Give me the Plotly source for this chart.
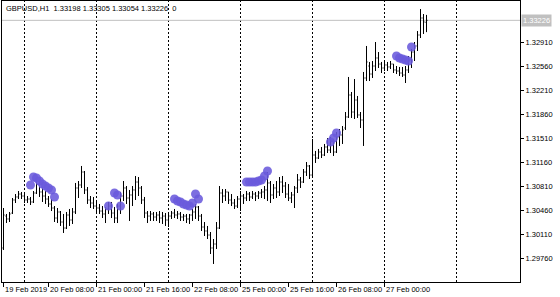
import pandas as pd
import plotly.graph_objects as go

symbol_header = "GBPUSD,H1\u00a0\u00a01.33198 1.33305 1.33054 1.33226\u00a0\u00a00"
first_bar_time = "2019-02-19 17:00"
last_session_time = "2019-02-28 23:00"

open_ = [
    1.29906, 1.30372, 1.30329, 1.30416, 1.30606, 1.30650, 1.30693, 1.30664, 1.30606, 1.30620,
    1.30577, 1.30708, 1.30839, 1.30723, 1.30664, 1.30620, 1.30548, 1.30489, 1.30343, 1.30431,
    1.30285, 1.30197, 1.30387, 1.30314, 1.30431, 1.30781, 1.30825, 1.31014, 1.30752, 1.30606,
    1.30562, 1.30518, 1.30489, 1.30445, 1.30402, 1.30475, 1.30518, 1.30416, 1.30343, 1.30518,
    1.30664, 1.30781, 1.30635, 1.30679, 1.30752, 1.30868, 1.30781, 1.30606, 1.30416, 1.30372,
    1.30402, 1.30358, 1.30387, 1.30343, 1.30372, 1.30314, 1.30372, 1.30416, 1.30387, 1.30402,
    1.30358, 1.30372, 1.30329, 1.30387, 1.30431, 1.30504, 1.30372, 1.30212, 1.30154, 1.30095,
    1.29906, 1.29964, 1.30197, 1.30708, 1.30664, 1.30723, 1.30606, 1.30562, 1.30518, 1.30620,
    1.30664, 1.30635, 1.30693, 1.30650, 1.30693, 1.30664, 1.30708, 1.30723, 1.30752, 1.30854,
    1.30679, 1.30781, 1.30723, 1.30868, 1.30810, 1.30693, 1.30635, 1.30679, 1.30781, 1.30898,
    1.30868, 1.31014, 1.31102, 1.30970, 1.31262, 1.31218, 1.31306, 1.31262, 1.31379, 1.31335,
    1.31467, 1.31306, 1.31525, 1.31554, 1.31656, 1.31817, 1.32137, 1.31889, 1.32064, 1.31846,
    1.31773, 1.32385, 1.32560, 1.32443, 1.32560, 1.32677, 1.32589, 1.32531, 1.32575, 1.32546,
    1.32589, 1.32502, 1.32487, 1.32458, 1.32429, 1.32502, 1.32648, 1.32764, 1.32852, 1.33012,
    1.33260, 1.33198,
]
high = [
    1.30489, 1.30402, 1.30431, 1.30635, 1.30693, 1.30737, 1.30723, 1.30693, 1.30664, 1.30650,
    1.30737, 1.30912, 1.30868, 1.30795, 1.30737, 1.30664, 1.30620, 1.30518, 1.30489, 1.30445,
    1.30402, 1.30431, 1.30475, 1.30489, 1.30854, 1.30883, 1.31102, 1.31029, 1.30795, 1.30664,
    1.30650, 1.30577, 1.30548, 1.30518, 1.30504, 1.30577, 1.30577, 1.30504, 1.30548, 1.30723,
    1.30883, 1.30810, 1.30752, 1.30810, 1.30956, 1.30941, 1.30810, 1.30650, 1.30445, 1.30445,
    1.30431, 1.30431, 1.30445, 1.30431, 1.30416, 1.30402, 1.30445, 1.30475, 1.30445, 1.30431,
    1.30402, 1.30402, 1.30402, 1.30475, 1.30548, 1.30518, 1.30402, 1.30285, 1.30227, 1.30139,
    1.30037, 1.30285, 1.30810, 1.30766, 1.30766, 1.30723, 1.30693, 1.30620, 1.30664, 1.30737,
    1.30693, 1.30737, 1.30723, 1.30737, 1.30723, 1.30737, 1.30766, 1.30810, 1.31014, 1.30883,
    1.30839, 1.30883, 1.30941, 1.30956, 1.30868, 1.30839, 1.30723, 1.30810, 1.30985, 1.30941,
    1.31058, 1.31160, 1.31116, 1.31496, 1.31321, 1.31350, 1.31379, 1.31423, 1.31510, 1.31525,
    1.31496, 1.31598, 1.31641, 1.31685, 1.31889, 1.32400, 1.32181, 1.32370, 1.32123, 1.31889,
    1.32473, 1.32852, 1.32619, 1.32633, 1.32910, 1.32764, 1.32619, 1.32619, 1.32619, 1.32633,
    1.32589, 1.32560, 1.32546, 1.32546, 1.32560, 1.32706, 1.32808, 1.32910, 1.33070, 1.33391,
    1.33318, 1.33305,
]
low = [
    1.29877, 1.30270, 1.30285, 1.30402, 1.30562, 1.30620, 1.30620, 1.30562, 1.30562, 1.30533,
    1.30562, 1.30693, 1.30650, 1.30577, 1.30548, 1.30504, 1.30445, 1.30285, 1.30270, 1.30227,
    1.30125, 1.30183, 1.30227, 1.30256, 1.30402, 1.30635, 1.30781, 1.30693, 1.30548, 1.30489,
    1.30475, 1.30416, 1.30402, 1.30343, 1.30270, 1.30402, 1.30343, 1.30270, 1.30270, 1.30402,
    1.30591, 1.30548, 1.30300, 1.30518, 1.30606, 1.30664, 1.30548, 1.30343, 1.30270, 1.30300,
    1.30300, 1.30300, 1.30270, 1.30256, 1.30227, 1.30212, 1.30329, 1.30343, 1.30329, 1.30300,
    1.30300, 1.30270, 1.30256, 1.30300, 1.30329, 1.30300, 1.30154, 1.30081, 1.30037, 1.29818,
    1.29673, 1.29891, 1.30183, 1.30562, 1.30591, 1.30548, 1.30518, 1.30475, 1.30489, 1.30445,
    1.30548, 1.30591, 1.30591, 1.30620, 1.30591, 1.30620, 1.30635, 1.30620, 1.30591, 1.30562,
    1.30620, 1.30635, 1.30664, 1.30708, 1.30635, 1.30591, 1.30562, 1.30489, 1.30708, 1.30781,
    1.30854, 1.30956, 1.30912, 1.30927, 1.31146, 1.31204, 1.31218, 1.31248, 1.31291, 1.31291,
    1.31248, 1.31291, 1.31394, 1.31423, 1.31627, 1.31802, 1.31802, 1.31787, 1.31802, 1.31656,
    1.31394, 1.32341, 1.32341, 1.32385, 1.32487, 1.32531, 1.32458, 1.32487, 1.32487, 1.32516,
    1.32458, 1.32443, 1.32414, 1.32400, 1.32312, 1.32458, 1.32531, 1.32633, 1.32779, 1.32968,
    1.33027, 1.33054,
]
close = [
    1.30387, 1.30329, 1.30402, 1.30606, 1.30650, 1.30693, 1.30664, 1.30606, 1.30620, 1.30577,
    1.30708, 1.30839, 1.30723, 1.30664, 1.30620, 1.30548, 1.30489, 1.30343, 1.30431, 1.30285,
    1.30197, 1.30387, 1.30314, 1.30431, 1.30781, 1.30825, 1.31014, 1.30752, 1.30606, 1.30562,
    1.30518, 1.30489, 1.30445, 1.30402, 1.30475, 1.30518, 1.30416, 1.30343, 1.30518, 1.30664,
    1.30781, 1.30635, 1.30679, 1.30752, 1.30868, 1.30781, 1.30606, 1.30416, 1.30372, 1.30402,
    1.30358, 1.30387, 1.30343, 1.30372, 1.30314, 1.30372, 1.30416, 1.30387, 1.30402, 1.30358,
    1.30372, 1.30329, 1.30387, 1.30431, 1.30504, 1.30372, 1.30212, 1.30154, 1.30095, 1.29906,
    1.29964, 1.30197, 1.30708, 1.30664, 1.30723, 1.30606, 1.30562, 1.30518, 1.30620, 1.30664,
    1.30635, 1.30693, 1.30650, 1.30693, 1.30664, 1.30708, 1.30723, 1.30752, 1.30854, 1.30679,
    1.30781, 1.30723, 1.30868, 1.30810, 1.30693, 1.30635, 1.30679, 1.30781, 1.30898, 1.30868,
    1.31014, 1.31102, 1.30970, 1.31262, 1.31218, 1.31306, 1.31262, 1.31379, 1.31335, 1.31467,
    1.31306, 1.31525, 1.31554, 1.31627, 1.31817, 1.32137, 1.31889, 1.32064, 1.31846, 1.31773,
    1.32385, 1.32619, 1.32443, 1.32560, 1.32677, 1.32589, 1.32531, 1.32575, 1.32546, 1.32589,
    1.32502, 1.32487, 1.32458, 1.32429, 1.32502, 1.32648, 1.32764, 1.32852, 1.33012, 1.33260,
    1.33202, 1.33226,
]

dot_bars = [9, 10, 11, 12, 13, 14, 15, 16, 17,
            35, 37, 38, 39,
            57, 58, 59, 60, 61, 62, 63, 64, 65,
            81, 82, 83, 84, 85, 86, 87, 88,
            109, 110, 111,
            131, 132, 133, 134, 135, 136]
dot_prices = [1.30825, 1.30941, 1.30927, 1.30883, 1.30839, 1.30810, 1.30781, 1.30752, 1.30650,
              1.30518, 1.30708, 1.30679, 1.30518,
              1.30620, 1.30591, 1.30577, 1.30548, 1.30533, 1.30518, 1.30562, 1.30693, 1.30620,
              1.30868, 1.30868, 1.30868, 1.30868, 1.30883, 1.30898, 1.30956, 1.31029,
              1.31452, 1.31510, 1.31583,
              1.32706, 1.32677, 1.32662, 1.32648, 1.32633, 1.32837]

price_ticks = [1.29760, 1.30110, 1.30460, 1.30810, 1.31160, 1.31510, 1.31860, 1.32210, 1.32560, 1.32910]
current_price = 1.33226
price_range = [1.29410, 1.33508]

time_tick_times = ["2019-02-19 17:00", "2019-02-20 08:00", "2019-02-21 00:00", "2019-02-21 16:00",
                   "2019-02-22 08:00", "2019-02-25 00:00", "2019-02-25 16:00", "2019-02-26 08:00",
                   "2019-02-27 00:00"]
time_tick_labels = ["19 Feb 2019", "20 Feb 08:00", "21 Feb 00:00", "21 Feb 16:00", "22 Feb 08:00",
                    "25 Feb 00:00", "25 Feb 16:00", "26 Feb 08:00", "27 Feb 00:00"]
visible_bar_slots = [-0.5, 172.1667]

FONT = "Liberation Sans, Arial, sans-serif"
FS = 7.5

all_hours = pd.date_range(first_bar_time, last_session_time, freq="h")
session = all_hours[all_hours.dayofweek < 5]
n = len(close)
xs = list(range(n))
tick_idx = [session.get_loc(pd.Timestamp(t)) for t in time_tick_times]
day_starts = [i for i, t in enumerate(session) if t.hour == 0 and i <= visible_bar_slots[1]]

fig = go.Figure()
fig.add_trace(go.Ohlc(
    x=xs, open=open_, high=high, low=low, close=close,
    increasing=dict(line=dict(color="#000000", width=1)),
    decreasing=dict(line=dict(color="#000000", width=1)),
    tickwidth=0.34, hoverinfo="skip", showlegend=False,
))
fig.add_trace(go.Scatter(
    x=dot_bars, y=dot_prices, mode="markers",
    marker=dict(size=9, color="rgba(106,90,220,0.88)", line=dict(width=0)),
    hoverinfo="skip", showlegend=False,
))

shapes = []
for i in day_starts:
    shapes.append(dict(type="line", xref="x", yref="paper", x0=i, x1=i, y0=0, y1=1,
                       line=dict(color="#000000", width=1, dash="2px,2px"), layer="below"))
shapes.append(dict(type="line", xref="paper", yref="y", x0=0, x1=1, y0=current_price, y1=current_price,
                   line=dict(color="#c0c0c0", width=1), layer="below"))

annotations = [
    dict(xref="paper", yref="paper", x=0, y=1, xanchor="left", yanchor="top", xshift=2, yshift=-1,
         text=symbol_header, showarrow=False, font=dict(family=FONT, size=FS, color="#000000")),
    dict(xref="paper", yref="y", x=1, y=current_price, xanchor="left", yanchor="middle", xshift=1,
         text="%.5f" % current_price, showarrow=False, bgcolor="#c0c0c0", borderpad=1,
         font=dict(family=FONT, size=FS, color="#ffffff")),
]
for i, lab in zip(tick_idx, time_tick_labels):
    annotations.append(dict(xref="x", yref="paper", x=i, y=0, xanchor="left", yanchor="top",
                            xshift=-1, yshift=-1, text=lab, showarrow=False,
                            font=dict(family=FONT, size=FS, color="#000000")))

fig.update_layout(
    width=560, height=297,
    margin=dict(l=2, r=40, t=1, b=15, pad=0),
    paper_bgcolor="#ffffff", plot_bgcolor="#ffffff",
    showlegend=False,
    shapes=shapes, annotations=annotations,
    xaxis=dict(range=visible_bar_slots, showgrid=False, zeroline=False,
               showline=True, mirror=True, linecolor="#000000", linewidth=1,
               tickmode="array", tickvals=tick_idx, ticks="outside", ticklen=4,
               tickcolor="#000000", showticklabels=False,
               rangeslider=dict(visible=False), fixedrange=True),
    yaxis=dict(range=price_range, side="right", showgrid=False, zeroline=False,
               showline=True, mirror=True, linecolor="#000000", linewidth=1,
               tickmode="array", tickvals=price_ticks, ticktext=["%.5f" % v for v in price_ticks],
               ticks="outside", ticklen=3, tickcolor="#000000",
               tickfont=dict(family=FONT, size=FS, color="#000000"), fixedrange=True),
)

fig.write_html("out.html")
